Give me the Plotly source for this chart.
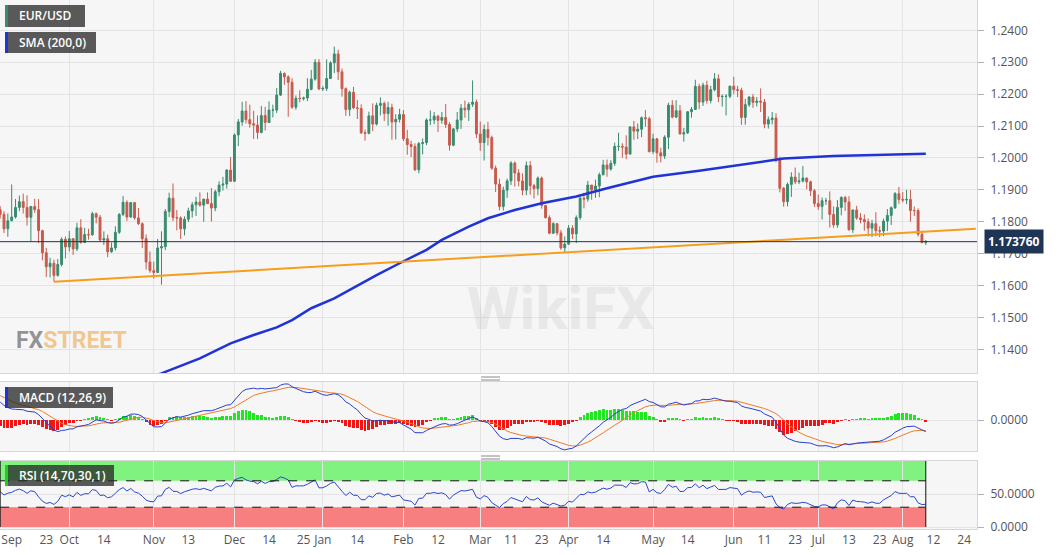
import numpy as np
import pandas as pd
import plotly.graph_objects as go
from plotly.subplots import make_subplots

GREEN = "#388c6e"
RED = "#c85a4b"
BLUE = "#1f33d6"
ORANGE = "#f59e1b"
NAVY = "#1f3556"
GRID = "#e4e4e6"
PANE = "#f6f6f7"
BORDER = "#d6d6d8"

# daily EUR/USD candles, Sep 7 2020 -> Aug 10 2021 (weekdays)
dates = pd.bdate_range("2020-09-07", "2021-08-10")

opens = [
    1.1838,1.1823,1.1778,1.1803,1.1815,1.1845,1.1863,1.1845,1.1814,1.1848,1.1838,1.1772,1.1703,1.1659,1.1670,1.1632,1.1666,1.1745,
    1.1721,1.1747,1.1715,1.1781,1.1735,1.1760,1.1759,1.1825,1.1814,1.1743,1.1747,1.1706,1.1718,1.1767,1.1823,1.1861,1.1815,1.1860,1.1812,1.1794,1.1747,1.1674,
    1.1647,1.1641,1.1718,1.1722,1.1832,1.1874,1.1813,1.1812,1.1778,1.1808,1.1834,1.1853,1.1862,1.1852,1.1871,1.1857,1.1843,1.1894,1.1915,1.1918,1.1962,
    1.1927,1.2072,1.2113,1.2147,1.2120,1.2107,1.2103,1.2080,1.2133,1.2111,1.2150,1.2150,1.2197,1.2265,1.2254,1.2237,1.2159,1.2187,1.2186,1.2188,1.2215,1.2247,1.2300,
    1.2216,1.2218,1.2249,1.2298,1.2326,1.2270,1.2217,1.2152,1.2206,1.2157,1.2155,1.2079,1.2077,1.2132,1.2106,1.2165,1.2171,1.2139,1.2158,1.2113,1.2121,
    1.2136,1.2060,1.2042,1.2036,1.1963,1.2045,1.2048,1.2119,1.2119,1.2131,1.2118,1.2127,1.2105,1.2040,1.2091,1.2119,1.2156,1.2151,1.2168,1.2175,
    1.2075,1.2048,1.2089,1.2064,1.1968,1.1918,1.1848,1.1899,1.1928,1.1984,1.1953,1.1928,1.1899,1.1976,1.1913,1.1904,1.1937,1.1851,1.1813,1.1764,1.1794,1.1765,1.1718,
    1.1730,1.1780,1.1762,1.1813,1.1874,1.1871,1.1915,1.1900,1.1912,1.1947,1.1978,1.1965,1.1983,1.2036,1.2036,1.2034,1.2012,1.2097,1.2084,1.2090,1.2126,1.2123,
    1.2020,1.2060,1.2016,1.2006,1.2065,1.2165,1.2128,1.2148,1.2075,1.2079,1.2145,1.2152,1.2224,1.2175,1.2228,1.2180,1.2214,1.2248,1.2192,1.2193,1.2193,
    1.2225,1.2214,1.2212,1.2127,1.2167,1.2191,1.2174,1.2178,1.2175,1.2106,1.2120,1.2125,1.1994,1.1905,1.1863,1.1917,1.1940,1.1925,1.1928,1.1937,1.1925,1.1897,
    1.1857,1.1848,1.1866,1.1866,1.1823,1.1790,1.1845,1.1876,1.1862,1.1775,1.1837,1.1812,1.1807,1.1800,1.1780,1.1794,1.1772,1.1771,1.1802,1.1820,1.1844,1.1888,
    1.1870,1.1868,1.1870,1.1835,1.1835,1.1761,1.1735,
]
highs = [
    1.1849,1.1833,1.1826,1.1917,1.1871,1.1882,1.1888,1.1883,1.1849,1.1872,1.1871,1.1775,1.1718,1.1687,1.1681,1.1683,1.1751,1.1754,
    1.1771,1.1748,1.1797,1.1808,1.1781,1.1778,1.1831,1.1829,1.1821,1.1770,1.1760,1.1735,1.1786,1.1827,1.1881,1.1867,1.1860,1.1860,1.1843,1.1798,1.1760,1.1707,
    1.1675,1.1746,1.1770,1.1840,1.1891,1.1920,1.1837,1.1817,1.1817,1.1844,1.1862,1.1878,1.1892,1.1870,1.1892,1.1905,1.1900,1.1927,1.1941,1.1965,1.2003,
    1.2077,1.2122,1.2176,1.2178,1.2167,1.2148,1.2133,1.2163,1.2160,1.2177,1.2167,1.2219,1.2273,1.2268,1.2259,1.2250,1.2196,1.2212,1.2192,1.2250,1.2276,1.2310,1.2310,
    1.2225,1.2309,1.2303,1.2349,1.2339,1.2280,1.2221,1.2211,1.2223,1.2182,1.2168,1.2089,1.2145,1.2171,1.2173,1.2190,1.2177,1.2176,1.2170,1.2137,1.2154,
    1.2150,1.2088,1.2054,1.2046,1.2050,1.2061,1.2124,1.2149,1.2144,1.2135,1.2144,1.2169,1.2112,1.2094,1.2144,1.2169,1.2180,1.2175,1.2243,1.2183,
    1.2114,1.2105,1.2113,1.2070,1.1976,1.1935,1.1910,1.1935,1.1990,1.1989,1.1965,1.1952,1.1989,1.1990,1.1919,1.1942,1.1942,1.1853,1.1820,1.1799,1.1794,1.1774,1.1754,
    1.1790,1.1789,1.1820,1.1880,1.1891,1.1928,1.1915,1.1932,1.1954,1.1994,1.1995,1.1993,1.2048,1.2079,1.2046,1.2071,1.2100,1.2116,1.2108,1.2130,1.2150,1.2129,
    1.2076,1.2062,1.2032,1.2071,1.2173,1.2181,1.2181,1.2166,1.2094,1.2146,1.2160,1.2245,1.2232,1.2236,1.2242,1.2226,1.2266,1.2262,1.2199,1.2200,1.2226,
    1.2254,1.2226,1.2220,1.2185,1.2194,1.2200,1.2191,1.2218,1.2185,1.2130,1.2144,1.2140,1.2004,1.1909,1.1923,1.1955,1.1970,1.1954,1.1975,1.1938,1.1929,1.1903,
    1.1885,1.1876,1.1875,1.1895,1.1848,1.1868,1.1880,1.1881,1.1880,1.1838,1.1850,1.1827,1.1823,1.1810,1.1806,1.1830,1.1786,1.1810,1.1840,1.1848,1.1893,1.1909,
    1.1893,1.1900,1.1900,1.1848,1.1842,1.1772,1.1743,
]
lows = [
    1.1810,1.1765,1.1753,1.1803,1.1810,1.1833,1.1826,1.1788,1.1737,1.1828,1.1733,1.1679,1.1627,1.1626,1.1612,1.1628,1.1660,1.1685,
    1.1707,1.1696,1.1708,1.1731,1.1733,1.1744,1.1756,1.1795,1.1737,1.1727,1.1689,1.1703,1.1710,1.1762,1.1818,1.1803,1.1812,1.1806,1.1790,1.1718,1.1650,1.1640,
    1.1622,1.1639,1.1603,1.1711,1.1815,1.1802,1.1773,1.1746,1.1757,1.1799,1.1813,1.1818,1.1847,1.1800,1.1856,1.1801,1.1833,1.1880,1.1898,1.1904,1.1925,
    1.1925,1.2037,1.2101,1.2108,1.2095,1.2059,1.2059,1.2077,1.2086,1.2111,1.2127,1.2141,1.2194,1.2229,1.2129,1.2154,1.2151,1.2174,1.2180,1.2178,1.2212,1.2242,1.2213,
    1.2210,1.2210,1.2247,1.2266,1.2244,1.2192,1.2132,1.2131,1.2153,1.2122,1.2075,1.2054,1.2074,1.2084,1.2102,1.2133,1.2116,1.2101,1.2057,1.2058,1.2111,
    1.2053,1.2010,1.2003,1.1959,1.1952,1.2011,1.2040,1.2103,1.2106,1.2081,1.2107,1.2094,1.2023,1.2037,1.2081,1.2091,1.2126,1.2116,1.2160,1.2062,
    1.2022,1.1992,1.2039,1.1963,1.1893,1.1836,1.1835,1.1875,1.1915,1.1910,1.1911,1.1883,1.1883,1.1885,1.1873,1.1883,1.1841,1.1810,1.1761,1.1762,1.1757,1.1712,1.1704,
    1.1727,1.1746,1.1733,1.1806,1.1842,1.1863,1.1869,1.1875,1.1877,1.1947,1.1941,1.1960,1.1975,1.2022,1.2000,1.1996,1.2011,1.2057,1.2059,1.2065,1.2098,1.2017,
    1.2012,1.1985,1.1986,1.1997,1.2028,1.2124,1.2125,1.2075,1.2051,1.2075,1.2126,1.2150,1.2153,1.2163,1.2170,1.2171,1.2209,1.2175,1.2161,1.2133,1.2187,
    1.2200,1.2191,1.2104,1.2104,1.2160,1.2157,1.2161,1.2144,1.2093,1.2092,1.2105,1.1986,1.1892,1.1847,1.1848,1.1878,1.1918,1.1918,1.1923,1.1902,1.1881,1.1847,
    1.1837,1.1807,1.1853,1.1782,1.1781,1.1781,1.1820,1.1834,1.1772,1.1765,1.1806,1.1795,1.1772,1.1754,1.1752,1.1755,1.1752,1.1755,1.1771,1.1790,1.1840,1.1856,
    1.1861,1.1855,1.1800,1.1818,1.1754,1.1732,1.1727,
]
closes = [
    1.1823,1.1778,1.1803,1.1815,1.1845,1.1863,1.1845,1.1814,1.1848,1.1838,1.1772,1.1703,1.1659,1.1670,1.1632,1.1666,1.1745,1.1721,
    1.1747,1.1715,1.1781,1.1735,1.1760,1.1759,1.1825,1.1814,1.1743,1.1747,1.1706,1.1718,1.1767,1.1823,1.1861,1.1815,1.1860,1.1812,1.1794,1.1747,1.1674,1.1647,
    1.1641,1.1718,1.1722,1.1832,1.1874,1.1813,1.1812,1.1778,1.1808,1.1834,1.1853,1.1862,1.1852,1.1871,1.1857,1.1843,1.1894,1.1915,1.1918,1.1962,1.1927,
    1.2072,1.2113,1.2147,1.2120,1.2107,1.2103,1.2080,1.2133,1.2111,1.2150,1.2150,1.2197,1.2265,1.2254,1.2237,1.2159,1.2187,1.2186,1.2188,1.2215,1.2247,1.2300,1.2216,
    1.2218,1.2249,1.2298,1.2326,1.2270,1.2217,1.2152,1.2206,1.2157,1.2155,1.2079,1.2077,1.2132,1.2106,1.2165,1.2171,1.2139,1.2158,1.2113,1.2121,1.2136,
    1.2060,1.2042,1.2036,1.1963,1.2045,1.2048,1.2119,1.2119,1.2131,1.2118,1.2127,1.2105,1.2040,1.2091,1.2119,1.2156,1.2151,1.2168,1.2175,1.2075,
    1.2048,1.2089,1.2064,1.1968,1.1918,1.1848,1.1899,1.1928,1.1984,1.1953,1.1928,1.1899,1.1976,1.1913,1.1904,1.1937,1.1851,1.1813,1.1764,1.1794,1.1765,1.1718,1.1730,
    1.1780,1.1762,1.1813,1.1874,1.1871,1.1915,1.1900,1.1912,1.1947,1.1978,1.1965,1.1983,1.2036,1.2036,1.2034,1.2012,1.2097,1.2084,1.2090,1.2126,1.2123,1.2020,
    1.2060,1.2016,1.2006,1.2065,1.2165,1.2128,1.2148,1.2075,1.2079,1.2145,1.2152,1.2224,1.2175,1.2228,1.2180,1.2214,1.2248,1.2192,1.2193,1.2193,1.2225,
    1.2214,1.2212,1.2127,1.2167,1.2191,1.2174,1.2178,1.2175,1.2106,1.2120,1.2125,1.1994,1.1905,1.1863,1.1917,1.1940,1.1925,1.1928,1.1937,1.1925,1.1897,1.1857,
    1.1848,1.1866,1.1866,1.1823,1.1790,1.1845,1.1876,1.1862,1.1775,1.1837,1.1812,1.1807,1.1800,1.1780,1.1794,1.1772,1.1771,1.1802,1.1820,1.1844,1.1888,1.1870,
    1.1868,1.1870,1.1835,1.1835,1.1761,1.1735,1.17376,
]

# closes before the visible window, only used to warm up MACD / RSI
warmup_dates = pd.bdate_range("2020-06-15", "2020-09-04")
warmup_closes = [
    1.1240,1.1264,1.1243,1.1204,1.1178,1.1257,1.1308,1.1251,1.1219,1.1220,1.1241,1.1233,
    1.1251,1.1238,1.1246,1.1310,1.1274,1.1331,1.1287,1.1301,1.1342,1.1409,1.1411,1.1383,1.1428,1.1445,1.1526,1.1570,1.1595,1.1656,1.1753,1.1717,1.1791,1.1845,1.1776,
    1.1762,1.1801,1.1874,1.1875,1.1787,1.1737,1.1738,1.1786,1.1813,1.1842,1.1870,1.1929,1.1833,1.1863,1.1799,1.1792,1.1831,1.1831,1.1820,1.1903,1.1937,
    1.1913,1.1855,1.1850,1.1838,
]

# 200-day SMA
sma_dates = ["2020-09-07","2020-10-01","2020-10-20","2020-11-04","2020-11-18","2020-11-30","2020-12-08","2020-12-16",
             "2020-12-22","2020-12-29","2021-01-06","2021-01-15","2021-01-21","2021-01-29","2021-02-09","2021-02-15",
             "2021-02-24","2021-03-03","2021-03-12","2021-03-23","2021-04-05","2021-04-15","2021-05-03","2021-05-19",
             "2021-06-03","2021-06-18","2021-07-07","2021-07-22","2021-08-10"]
sma_vals = [1.1150,1.1228,1.1280,1.1325,1.1372,1.1419,1.1445,1.1469,
            1.1492,1.1529,1.1560,1.1607,1.1633,1.1670,1.1712,1.1743,
            1.1785,1.1811,1.1837,1.1858,1.1879,1.1905,1.1941,1.1960,
            1.1978,1.1998,1.2006,1.2009,1.2013]

# support trendline (Sep 25 low -> right edge)
trend_dates = ["2020-09-25", "2021-08-27"]
trend_vals = [1.1612, 1.1778]

last_price = 1.17376
price_ticks = [1.14, 1.15, 1.16, 1.17, 1.18, 1.19, 1.20, 1.21, 1.22, 1.23, 1.24]

tick_dates = ["2020-09-10","2020-09-23","2020-10-01","2020-10-14","2020-11-02","2020-11-13","2020-12-01","2020-12-14",
              "2020-12-25","2021-01-01","2021-01-14","2021-02-01","2021-02-12","2021-03-01","2021-03-11","2021-03-23",
              "2021-04-01","2021-04-14","2021-05-03","2021-05-14","2021-06-01","2021-06-11","2021-06-23","2021-07-01",
              "2021-07-13","2021-07-23","2021-08-02","2021-08-12","2021-08-24"]
tick_text = ["Sep","23","Oct","14","Nov","13","Dec","14","25","Jan","14","Feb","12","Mar","11","23",
             "Apr","14","May","14","Jun","11","23","Jul","13","23","Aug","12","24"]
month_starts = ["2020-10-01","2020-11-02","2020-12-01","2021-01-01","2021-02-01","2021-03-01",
                "2021-04-01","2021-05-03","2021-06-01","2021-07-01","2021-08-02"]

assert len(opens) == len(highs) == len(lows) == len(closes) == len(dates)

# indicators
all_close = pd.Series(warmup_closes + closes, index=warmup_dates.append(dates))
macd_all = all_close.ewm(span=12, adjust=False).mean() - all_close.ewm(span=26, adjust=False).mean()
signal_all = macd_all.ewm(span=9, adjust=False).mean()
delta = all_close.diff()
gain = delta.clip(lower=0).ewm(alpha=1/14, adjust=False).mean()
loss = (-delta.clip(upper=0)).ewm(alpha=1/14, adjust=False).mean()
rsi_all = 100 - 100 / (1 + gain / loss)

macd = macd_all.loc[dates]
signal = signal_all.loc[dates]
hist = macd - signal
rsi = rsi_all.loc[dates]

fig = make_subplots(rows=3, cols=1, shared_xaxes=True)

fig.add_trace(go.Candlestick(x=dates, open=opens, high=highs, low=lows, close=closes,
                             increasing=dict(line=dict(color=GREEN, width=1), fillcolor=GREEN),
                             decreasing=dict(line=dict(color=RED, width=1), fillcolor=RED),
                             whiskerwidth=0, hoverinfo="skip"), row=1, col=1)
fig.add_trace(go.Scatter(x=sma_dates, y=sma_vals, mode="lines", line=dict(color=BLUE, width=2.5), hoverinfo="skip"), row=1, col=1)
fig.add_trace(go.Scatter(x=trend_dates, y=trend_vals, mode="lines", line=dict(color=ORANGE, width=2), hoverinfo="skip"), row=1, col=1)

fig.add_trace(go.Bar(x=dates, y=hist, marker_color=np.where(hist >= 0, "#22e622", "#f01414"),
                     marker_line_width=0, width=0.75 * 86400000, hoverinfo="skip"), row=2, col=1)
fig.add_trace(go.Scatter(x=dates, y=signal, mode="lines", line=dict(color="#f07a2a", width=1), hoverinfo="skip"), row=2, col=1)
fig.add_trace(go.Scatter(x=dates, y=macd, mode="lines", line=dict(color="#2740d0", width=1), hoverinfo="skip"), row=2, col=1)

fig.add_trace(go.Scatter(x=dates, y=rsi, mode="lines", line=dict(color="#2b46c8", width=1), hoverinfo="skip"), row=3, col=1)

# plot area is 977 x 529 px
def px(x):
    return x / 977

def py(y):
    return 1 - y / 529

s = float(macd.max()) / 36

fig.update_layout(width=1060, height=555, margin=dict(l=0, r=83, t=0, b=26),
                  paper_bgcolor="white", plot_bgcolor=PANE, showlegend=False, bargap=0,
                  font=dict(family="Open Sans, sans-serif", size=12, color="#555"),
                  xaxis_rangeslider_visible=False, hovermode=False,
                  yaxis=dict(domain=[py(373), 1]),
                  yaxis2=dict(domain=[py(451), py(382)]),
                  yaxis3=dict(domain=[0, py(461)]))

fig.update_xaxes(type="date", range=["2020-09-04 23:00", "2021-08-27 08:00"],
                 rangebreaks=[dict(bounds=["sat", "mon"])],
                 showgrid=False, zeroline=False, showline=True, mirror=True, linecolor=BORDER,
                 tickmode="array", tickvals=tick_dates, ticktext=tick_text, ticks="",
                 tickfont=dict(size=12, color="#555"),
                 minor=dict(tickvals=month_starts, showgrid=True, gridcolor=GRID, ticks=""))

fig.update_yaxes(side="right", showgrid=True, gridcolor=GRID, zeroline=False, showline=True, mirror=True,
                 linecolor=BORDER, ticks="outside", ticklen=6, tickcolor="#b0b0b0",
                 ticklabelstandoff=4, tickfont=dict(size=12, color="#555"))
fig.update_yaxes(range=[1.1326, 1.2495], tickvals=price_ticks, tickformat=".4f", row=1, col=1)
fig.update_yaxes(range=[-31 * s, 38 * s], tickvals=[0], ticktext=["0.0000"], row=2, col=1)
fig.update_yaxes(range=[-3, 100], tickvals=[0, 50], ticktext=["0.0000", "50.0000"], row=3, col=1)

# current price line and label
fig.add_shape(type="line", xref="x domain", x0=0, x1=1, yref="y", y0=last_price, y1=last_price,
              line=dict(color=NAVY, width=1))
fig.add_annotation(xref="paper", x=1, xanchor="left", xshift=7, yref="y", y=last_price,
                   text="<b>1.173760</b>", showarrow=False, bgcolor=NAVY, borderpad=3,
                   font=dict(color="white", size=12))

# RSI overbought / oversold bands
first, last = dates[0], dates[-1]
fig.add_shape(type="rect", xref="x3", yref="y3", x0=first, x1=last, y0=70, y1=100,
              fillcolor="#7ff27f", line_width=0, layer="below")
fig.add_shape(type="rect", xref="x3", yref="y3", x0=first, x1=last, y0=0, y1=30,
              fillcolor="#f77f7f", line_width=0, layer="below")
for lvl in (70, 30):
    fig.add_shape(type="line", xref="x3", yref="y3", x0=first, x1=last, y0=lvl, y1=lvl,
                  line=dict(color="#111", width=1, dash="dash"))
for xv in (first, last):
    fig.add_shape(type="line", xref="x3", yref="y3", x0=xv, x1=xv, y0=0, y1=100,
                  line=dict(color="#111", width=1))

# legend tags
tags = [("EUR/USD", 5, 85, 5, 27, GREEN), ("SMA (200,0)", 5, 96, 32, 53, BLUE),
        ("MACD (12,26,9)", 5, 113, 387, 408, BLUE), ("RSI (14,70,30,1)", 5, 114, 465, 486, "#22cc22")]
for label, x0, x1, y0, y1, col in tags:
    fig.add_shape(type="rect", xref="paper", yref="paper", x0=px(x0), x1=px(x1), y0=py(y1), y1=py(y0),
                  fillcolor="rgba(40,40,40,0.76)", line_width=0)
    fig.add_shape(type="rect", xref="paper", yref="paper", x0=px(x0), x1=px(x0 + 3), y0=py(y1), y1=py(y0),
                  fillcolor=col, line_width=0)
    fig.add_annotation(xref="paper", yref="paper", x=px(x0 + 12), y=py((y0 + y1) / 2), xanchor="left",
                       yanchor="middle", text=label, showarrow=False,
                       font=dict(color="white", size=12, family="Open Sans, sans-serif", weight=600))

# pane resize handles
for yh in (377, 456):
    for dy in (0, 3):
        fig.add_shape(type="line", xref="paper", yref="paper", x0=px(481), x1=px(500),
                      y0=py(yh + dy), y1=py(yh + dy), line=dict(color="#888", width=1))

# watermarks
fig.add_annotation(xref="paper", yref="paper", x=px(14), y=py(340), xanchor="left", yanchor="middle",
                   text="<span style='color:rgba(120,120,120,0.8)'>FX</span><span style='color:rgba(240,185,115,0.8)'>STREET</span>",
                   showarrow=False, font=dict(size=23, family="Roboto, sans-serif", weight=700))
fig.add_annotation(xref="paper", yref="paper", x=px(560), y=py(308), xanchor="center", yanchor="middle",
                   text="WikiFX", showarrow=False,
                   font=dict(size=60, color="rgba(150,150,150,0.14)", family="Roboto, sans-serif", weight=700))

fig.write_html("out.html", config={"displayModeBar": False},
               post_script="document.body.style.margin='0';")
